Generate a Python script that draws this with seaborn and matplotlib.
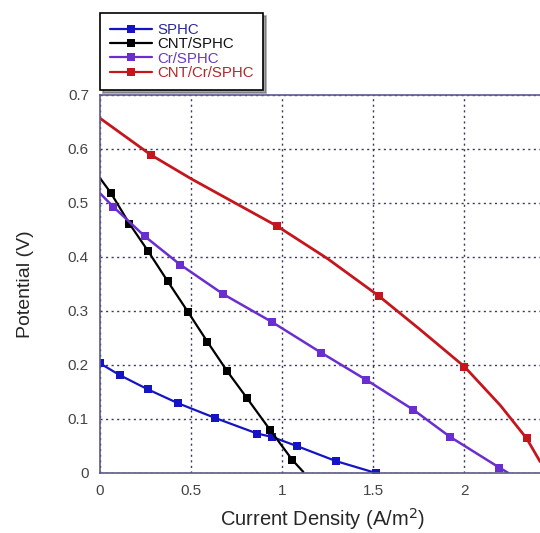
import matplotlib
matplotlib.use("Agg")
import matplotlib.pyplot as plt
import seaborn as sns
import pandas as pd
from matplotlib.lines import Line2D

# ---- data ----
sphc_x = [0.0, 0.11, 0.262, 0.43, 0.632, 0.864, 0.943, 1.081, 1.297, 1.516]
sphc_y = [0.203, 0.181, 0.155, 0.129, 0.102, 0.073, 0.067, 0.050, 0.022, 0.0]
sphc_marks = [0, 1, 2, 3, 4, 5, 6, 7, 8, 9]

cnt_x = [0.0, 0.059, 0.161, 0.262, 0.372, 0.482, 0.590, 0.700, 0.809, 0.934, 1.057, 1.117]
cnt_y = [0.546, 0.519, 0.462, 0.412, 0.355, 0.299, 0.243, 0.188, 0.138, 0.080, 0.024, 0.002]
cnt_marks = [1, 2, 3, 4, 5, 6, 7, 8, 9, 10]

cr_x = [0.0, 0.073, 0.247, 0.44, 0.678, 0.943, 1.214, 1.46, 1.722, 1.923, 2.194, 2.243]
cr_y = [0.518, 0.493, 0.438, 0.386, 0.331, 0.280, 0.223, 0.173, 0.117, 0.067, 0.010, 0.0]
cr_marks = [1, 2, 3, 4, 5, 6, 7, 8, 9, 10]

cntcr_x = [0.0, 0.28, 0.5, 0.974, 1.25, 1.531, 1.75, 2.002, 2.2, 2.344, 2.418]
cntcr_y = [0.657, 0.589, 0.545, 0.457, 0.397, 0.328, 0.268, 0.197, 0.125, 0.064, 0.021]
cntcr_marks = [1, 3, 5, 7, 9]

labels = ["SPHC", "CNT/SPHC", "Cr/SPHC", "CNT/Cr/SPHC"]
colors = ["#1414c4", "#000000", "#6a2ed0", "#c4161c"]
text_colors = ["#2a2a9a", "#111111", "#6a3ab8", "#b02a2a"]
x_ticks = [0, 0.5, 1, 1.5, 2]
x_tick_labels = ["0", "0.5", "1", "1.5", "2"]
y_ticks = [0, 0.1, 0.2, 0.3, 0.4, 0.5, 0.6, 0.7]
y_tick_labels = ["0", "0.1", "0.2", "0.3", "0.4", "0.5", "0.6", "0.7"]

sns.set_style("white")
plt.rcParams["font.family"] = ["Liberation Sans", "DejaVu Sans"]

fig = plt.figure(figsize=(5.4, 5.33), dpi=100)
W, H = 540, 533
ax = fig.add_axes([100 / W, 1 - 473 / H, 445.4 / W, (473 - 95) / H])

series = [
    (sphc_x, sphc_y, sphc_marks, 1.6),
    (cnt_x, cnt_y, cnt_marks, 1.6),
    (cr_x, cr_y, cr_marks, 1.8),
    (cntcr_x, cntcr_y, cntcr_marks, 2.0),
]
for (xs, ys, mk, lw), lab, col in zip(series, labels, colors):
    df = pd.DataFrame({"x": xs, "y": ys})
    sns.lineplot(data=df, x="x", y="y", ax=ax, sort=False, color=col, lw=lw,
                 marker="s", markersize=5.5, markevery=mk, markeredgewidth=0,
                 label=lab, legend=False)

ax.set_xlim(0, 2.447)
ax.set_ylim(0, 0.7)
ax.set_xticks(x_ticks)
ax.set_xticklabels(x_tick_labels)
ax.set_yticks(y_ticks)
ax.set_yticklabels(y_tick_labels)
ax.grid(True, color="#3a3a5a", linestyle=(0, (1.5, 2.5)), linewidth=1.0)
for s in ["left", "bottom", "top"]:
    ax.spines[s].set_color("#5a5a8c")
    ax.spines[s].set_linewidth(1.2)
ax.spines["right"].set_visible(False)
ax.tick_params(axis="both", direction="in", length=4, color="#5a5a8c",
               labelsize=11, labelcolor="#444444", pad=8)
ax.set_xlabel("Current Density (A/m$^2$)", fontsize=14.5, labelpad=6)
ax.set_ylabel("Potential (V)", fontsize=14, labelpad=24)

hs = [Line2D([0], [0], color=c, lw=1.6, marker="s", markersize=5.5, markeredgewidth=0)
      for c in colors]
leg = fig.legend(hs, labels, loc="upper left", bbox_to_anchor=(100 / W, 1 - 13 / H),
                 fontsize=10.8, frameon=True, fancybox=False, shadow=True,
                 handlelength=2.8, handletextpad=0.35, labelspacing=0.03,
                 borderpad=0.65, borderaxespad=0)
leg.get_frame().set_edgecolor("black")
leg.get_frame().set_linewidth(1.2)
for t, c in zip(leg.get_texts(), text_colors):
    t.set_color(c)

fig.savefig("out.png", dpi=100)
